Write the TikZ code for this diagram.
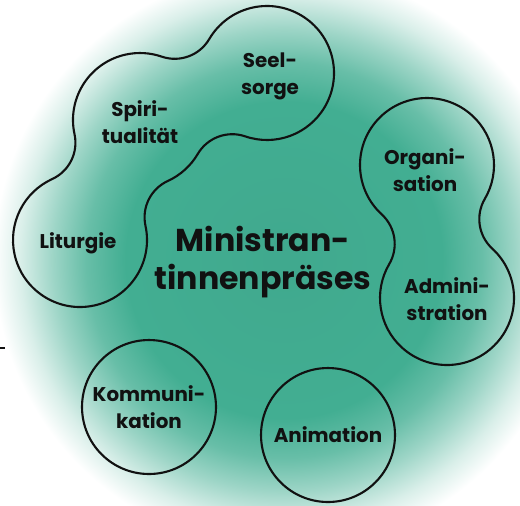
\documentclass[tikz,border=0pt]{standalone}
\usepackage{fontspec}
\setmainfont{Poppins}
\usetikzlibrary{calc}

\definecolor{glowteal}{HTML}{42AE92}
\definecolor{inkblack}{HTML}{111111}

\pgfdeclareradialshading{tealglow}{\pgfpointorigin}{%
  color(0bp)=(glowteal!97!black); color(12bp)=(glowteal);
  color(15bp)=(glowteal!80!white); color(17.5bp)=(glowteal!52!white);
  color(20bp)=(glowteal!20!white); color(22bp)=(white); color(50bp)=(white)}

\begin{document}
\begin{tikzpicture}[
  x=0.02cm,
  y=-0.02cm,
  line join=round,
  line cap=round,
  outline/.style={draw=inkblack,line width=1.2pt},
  bubble/.style={circle,outline,minimum size=2.68cm,inner sep=0pt,align=center,
    font=\fontsize{11.3}{15.3}\selectfont\bfseries,text=inkblack},
  topic/.style={align=center,font=\fontsize{11.3}{15.3}\selectfont\bfseries,text=inkblack},
  title/.style={align=center,font=\fontsize{18}{22}\selectfont\bfseries,text=inkblack}
]
  \useasboundingbox (0,0) rectangle (520,505);

  % background glow
  \begin{scope}
    \clip (0,0) rectangle (520,505);
    \shade[shading=tealglow] (284,260) circle[radius=330];
  \end{scope}

  % circle centres
  \coordinate (L) at (80,240);
  \coordinate (P) at (140,120);
  \coordinate (S) at (267,73);
  \coordinate (O) at (427,165);
  \coordinate (A) at (447,298);

  % Liturgie - Spiritualitaet - Seelsorge
  \draw[outline] ($(L)+(-12.26:67)$)
    arc[start angle=-12.26,end angle=245.39,radius=67]
    arc[start angle=65.39,end angle=-12.26,radius=40]
    arc[start angle=167.74,end angle=288.95,radius=67]
    arc[start angle=108.95,end angle=30.43,radius=40]
    arc[start angle=210.43,end angle=468.95,radius=67]
    arc[start angle=-71.05,end angle=-149.57,radius=40]
    arc[start angle=30.43,end angle=65.39,radius=67]
    arc[start angle=-114.61,end angle=-192.26,radius=40]
    -- cycle;

  % Organisation - Administration
  \draw[outline] ($(O)+(132.51:67)$)
    arc[start angle=132.51,end angle=390.39,radius=67]
    arc[start angle=-149.61,end angle=-227.49,radius=40]
    arc[start angle=-47.49,end angle=210.39,radius=67]
    arc[start angle=30.39,end angle=-47.49,radius=40]
    -- cycle;

  \node[bubble] (komm) at (149,407) {Kommuni-\\kation};
  \node[bubble] (anim) at (328,435) {Animation};

  \node[topic] (seel) at (270,76) {Seel-\\sorge};
  \node[topic] (spir) at (140,122) {Spiri-\\tualität};
  \node[topic] (litu) at (78,243) {Liturgie};
  \node[topic] (orga) at (425,170) {Organi-\\sation};
  \node[topic] (admi) at (447,299) {Admini-\\stration};

  \node[title] (praeses) at (263,262) {Ministran-\\tinnenpräses};

  \draw[inkblack,line width=1pt,line cap=butt] (0,348) -- (5,348);
\end{tikzpicture}
\end{document}
